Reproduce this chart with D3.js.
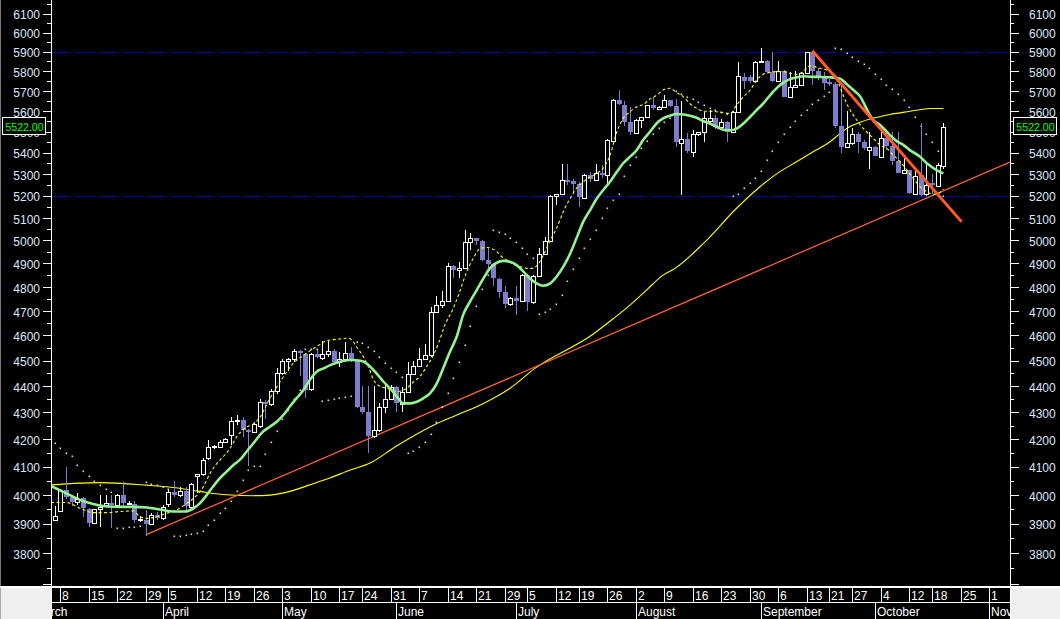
<!DOCTYPE html>
<html><head><meta charset="utf-8">
<script src="https://cdn.jsdelivr.net/npm/d3@7/dist/d3.min.js"></script>
<style>
html,body{margin:0;padding:0;background:#000;overflow:hidden;}
svg{display:block;}
text{font-family:"Liberation Sans",Arial,sans-serif;}
</style></head><body>
<svg id="c" width="1060" height="619"></svg>
<script>
// ---------- DATA ----------
const calendarStart = "2010-03-01", calendarEnd = "2010-11-08", firstDataDay = "2010-03-05";
const holidays = ["2010-04-02","2010-05-21","2010-06-28","2010-07-16","2010-09-17","2010-09-20","2010-10-11"];
const monthNames = ["January","February","March","April","May","June","July","August","September","October","November","December"];
const yTickLabels = [3800,3900,4000,4100,4200,4300,4400,4500,4600,4700,4800,4900,5000,5100,5200,5300,5400,5500,5600,5700,5800,5900,6000,6100];
const refLevels = [5900, 5200];

const open = [3913,3944,4017,3991,3976,3988,3949,3904,3950,3966,3970,3964,4000,3971,3968,3913,3913,3899,3930,3919,
3968,4009,3999,4013,3959,4068,4072,4133,4170,4172,4190,4215,4268,4271,4234,4227,4250,4340,4333,4380,
4450,4498,4505,4537,4524,4390,4524,4511,4524,4537,4493,4505,4528,4502,4322,4303,4212,4234,4322,4350,
4395,4332,4376,4446,4478,4506,4522,4694,4725,4741,4889,4871,4880,4992,5009,4997,4914,4897,4832,4777,
4727,4752,4740,4851,4735,4845,4942,4999,5200,5207,5272,5268,5254,5188,5295,5272,5304,5295,5456,5653,
5630,5548,5492,5557,5570,5630,5609,5622,5653,5627,5445,5466,5405,5488,5497,5553,5565,5521,5545,5497,
5597,5773,5770,5748,5846,5852,5798,5751,5801,5672,5718,5730,5790,5896,5800,5778,5745,5733,5530,5425,
5444,5489,5452,5415,5428,5381,5468,5433,5360,5303,5318,5210,5295,5206,5257,5246,5339];
const high = [3962,4022,4098,3995,4005,3992,3955,3952,4000,4000,4000,4002,4046,3977,3979,3925,3947,3935,3941,3964,
4017,4048,4028,4028,4040,4075,4130,4197,4180,4197,4203,4283,4290,4283,4238,4262,4352,4345,4390,4470,
4505,4510,4547,4540,4530,4530,4541,4576,4576,4545,4535,4573,4555,4505,4401,4401,4401,4335,4405,4405,
4400,4398,4495,4497,4550,4565,4718,4762,4783,4900,4895,4908,5046,5031,5012,5000,4965,4900,4836,4804,
4759,4804,4855,4855,4850,4965,5016,5205,5210,5346,5346,5276,5264,5298,5307,5346,5342,5465,5660,5704,
5650,5622,5560,5572,5633,5671,5625,5680,5656,5660,5651,5492,5508,5500,5597,5605,5581,5560,5550,5600,
5849,5793,5780,5850,5918,5855,5900,5852,5805,5798,5801,5798,5900,5905,5815,5798,5760,5745,5737,5600,
5517,5500,5460,5500,5432,5533,5500,5497,5497,5380,5320,5334,5540,5357,5298,5350,5540];
const low = [3910,3940,3985,3961,3965,3924,3890,3900,3890,3962,3885,3960,3953,3966,3902,3905,3857,3896,3913,3913,
3959,3991,3994,3947,3955,4005,4065,4124,4165,4166,4185,4178,4252,4209,4102,4222,4240,4274,4325,4370,
4445,4457,4496,4440,4355,4380,4510,4502,4515,4490,4473,4496,4496,4318,4293,4150,4204,4228,4297,4345,
4300,4300,4372,4443,4475,4502,4515,4690,4714,4735,4836,4836,4878,4960,4980,4910,4879,4804,4752,4711,
4722,4683,4735,4700,4730,4840,4938,4995,5158,5205,5247,5210,5150,5185,5262,5270,5280,5247,5450,5632,
5528,5484,5488,5516,5566,5606,5606,5620,5620,5425,5203,5400,5381,5478,5452,5540,5513,5513,5452,5493,
5590,5709,5740,5740,5840,5790,5745,5748,5668,5665,5715,5727,5785,5730,5755,5705,5725,5520,5400,5420,
5438,5400,5412,5323,5382,5378,5412,5342,5303,5300,5210,5206,5200,5200,5206,5240,5325];
const close = [3926,4017,3991,3976,3986,3953,3904,3949,3956,3970,3964,4000,3971,3972,3913,3915,3899,3930,3919,3959,
4009,3999,4013,3961,4037,4072,4125,4172,4174,4190,4199,4267,4271,4234,4225,4256,4338,4332,4380,4450,
4498,4505,4537,4528,4387,4524,4515,4524,4537,4496,4505,4528,4502,4322,4303,4213,4234,4322,4350,4398,
4335,4376,4446,4478,4506,4522,4694,4725,4741,4889,4874,4882,4992,5009,4999,4914,4897,4836,4780,4727,
4752,4742,4851,4738,4845,4942,4999,5199,5207,5272,5268,5254,5192,5295,5276,5304,5298,5460,5653,5636,
5548,5497,5557,5570,5630,5614,5622,5653,5627,5450,5464,5408,5488,5497,5565,5565,5521,5545,5500,5597,
5778,5748,5748,5846,5852,5798,5751,5801,5672,5722,5730,5790,5896,5800,5778,5739,5735,5530,5428,5444,
5489,5452,5420,5425,5385,5468,5433,5360,5306,5318,5214,5292,5203,5249,5249,5342,5522];

const sar = [4185,4166,4150,4140,4105,4085,4065,4048,4033,4020,4010,3885,3886,3888,3890,3892,4044,4039,4033,4027,
4022,3857,3859,3861,3865,3869,3875,3895,3913,3936,3953,3978,4015,4054,4087,4102,4102,4145,4190,4230,
4275,4309,4350,4385,4544,4545,4546,4344,4347,4350,4355,4359,4363,4575,4571,4555,4536,4515,4491,4469,
4456,4434,4150,4157,4170,4190,4220,4265,4320,4375,4430,4495,4560,4640,4720,4790,4850,5045,5039,5029,
5010,4991,4965,4940,4922,4686,4697,4708,4727,4766,4824,4876,4924,4968,5006,5045,5101,5143,5180,5210,
5290,5340,5380,5420,5455,5490,5520,5545,5565,5700,5683,5668,5658,5645,5630,5618,5606,5595,5584,5198,
5206,5234,5259,5283,5313,5365,5407,5451,5487,5521,5552,5581,5608,5635,5655,5677,5697,5918,5912,5892,
5871,5852,5835,5815,5784,5759,5730,5708,5683,5653,5622,5573,5530,5490,5450,5410,5200];

// moving averages: [trading-day index, value]
const maGreen = [[-0.6,4031],[2.1,4005],[4.5,3982],[6.8,3968],[9.2,3959],[11.5,3958],[13.8,3958],[16.2,3956],[18.5,3949],[20.8,3942],[22.9,3942],[24.4,3953],[25.5,3970],[26.7,3999],[27.9,4031],[29.0,4058],[30.2,4082],[31.4,4106],[32.6,4126],[33.7,4154],[34.9,4185],[36.6,4228],[37.8,4246],[39.0,4265],[40.2,4291],[41.3,4322],[42.5,4354],[43.7,4385],[44.8,4424],[46.0,4456],[47.2,4469],[48.4,4482],[49.5,4491],[50.7,4499],[51.9,4502],[53.0,4501],[54.2,4496],[55.4,4476],[56.5,4450],[57.7,4418],[58.9,4391],[60.1,4360],[61.2,4334],[62.4,4334],[63.6,4340],[64.7,4353],[65.9,4372],[67.1,4411],[68.2,4469],[69.4,4535],[70.6,4596],[71.7,4683],[72.9,4738],[74.1,4787],[75.3,4837],[76.4,4879],[77.6,4903],[78.8,4911],[79.9,4907],[81.1,4893],[82.3,4865],[83.4,4837],[84.6,4815],[85.8,4805],[87.0,4815],[88.1,4843],[89.3,4886],[90.5,4943],[91.6,5009],[92.8,5083],[94.0,5135],[95.2,5188],[96.3,5226],[97.5,5264],[98.7,5310],[99.8,5350],[101.0,5381],[102.2,5413],[103.3,5460],[104.5,5500],[105.7,5541],[106.8,5565],[108.0,5578],[109.2,5586],[110.4,5584],[111.5,5578],[112.7,5568],[113.9,5551],[115.0,5540],[116.2,5524],[117.4,5510],[118.6,5507],[119.7,5515],[120.9,5540],[122.1,5573],[123.2,5605],[124.4,5638],[125.6,5680],[126.7,5713],[127.9,5742],[129.1,5760],[130.3,5769],[131.4,5774],[132.6,5772],[134.3,5771],[136.1,5769],[137.9,5762],[139.0,5735],[140.2,5705],[141.4,5672],[142.2,5630],[143.0,5585],[143.7,5557],[144.9,5533],[146.6,5484],[147.8,5455],[149.0,5436],[150.1,5412],[151.9,5381],[153.1,5350],[154.8,5318],[156,5303]];
const maShort = [[-0.6,3973],[2.1,3973],[4.5,3953],[6.8,3938],[9.2,3938],[11.5,3942],[13.8,3944],[15.0,3924],[16.2,3918],[17.9,3924],[19.7,3936],[21.4,3947],[23.2,3970],[25.0,3999],[26.1,4028],[27.3,4076],[28.5,4112],[29.6,4136],[30.8,4166],[32.0,4209],[33.7,4245],[34.8,4255],[36.1,4283],[37.5,4341],[39.6,4417],[41.9,4489],[43.7,4521],[46.0,4555],[47.8,4579],[50.1,4586],[51.6,4589],[52.4,4576],[53.0,4555],[54.2,4515],[55.1,4476],[56.0,4424],[56.8,4404],[57.7,4395],[58.9,4388],[60.1,4379],[61.8,4391],[63.0,4417],[64.1,4437],[65.3,4476],[66.5,4522],[67.4,4569],[68.5,4642],[69.7,4697],[70.9,4766],[71.7,4822],[72.6,4879],[73.5,4922],[74.7,4965],[75.9,4969],[76.7,4965],[77.6,4951],[78.5,4929],[79.4,4915],[80.5,4897],[81.7,4887],[82.9,4879],[84.0,4879],[84.6,4889],[85.8,4936],[87.0,5001],[88.1,5053],[89.3,5128],[90.5,5188],[91.6,5234],[92.8,5264],[94.0,5287],[95.2,5303],[96.3,5327],[97.5,5389],[98.7,5500],[99.8,5565],[101.0,5597],[102.2,5622],[103.3,5633],[104.5,5660],[105.7,5680],[106.8,5705],[108.0,5714],[109.2,5692],[110.4,5671],[111.5,5638],[112.7,5614],[113.9,5600],[115.0,5600],[116.2,5597],[117.4,5592],[118.6,5589],[119.7,5630],[120.9,5671],[122.1,5705],[123.2,5755],[124.4,5784],[125.6,5794],[126.7,5798],[127.9,5798],[129.1,5789],[130.3,5784],[131.4,5798],[132.6,5827],[134.3,5815],[135.5,5806],[136.7,5789],[137.6,5739],[138.4,5680],[139.3,5622],[140.2,5581],[141.4,5533],[142.5,5500],[143.7,5468],[144.9,5436],[146.1,5420],[147.2,5389],[148.4,5357],[149.6,5318],[150.7,5280],[151.9,5241],[153.1,5218],[154.2,5206],[155.1,5210],[156,5230]];
const maLong = [[-0.6,4035],[8.0,4043],[16.2,4034],[20.8,4026],[25.5,4012],[30.2,4000],[34.9,3997],[37.8,3999],[41.3,4012],[44.8,4035],[48.4,4060],[51.9,4088],[55.4,4113],[59.8,4172],[66.5,4252],[70.6,4290],[75.3,4334],[79.9,4391],[84.3,4469],[94.3,4602],[98.1,4669],[101.0,4724],[103.9,4787],[106.8,4850],[108.9,4879],[113.9,4987],[119.7,5143],[123.8,5241],[127.3,5311],[130.3,5358],[133.5,5410],[136.1,5452],[137.9,5492],[139.6,5525],[141.4,5546],[143.1,5562],[144.9,5573],[146.6,5584],[148.4,5592],[150.1,5600],[151.9,5607],[153.7,5613],[156,5613]];

// trend lines: [trading-day index, value]
const trendUp = [[16,3862],[156,5222]];
const trendDown = [[133,5905],[159.2,5082]];

// ---------- LAYOUT ----------
const svg = d3.select("#c");
const plotL = 51, plotR = 1010, plotB = 586;
const x = d3.scaleLinear().domain([0,164]).range([54.5, 989]);
const y = d3.scaleLog().domain([6100,3800]).range([13.7,553.3]);

svg.append("rect").attr("width",1060).attr("height",619).attr("fill","#000");
const defs = svg.append("defs");
defs.append("clipPath").attr("id","plot").append("rect").attr("x",plotL+1).attr("y",0).attr("width",plotR-plotL-1).attr("height",plotB);
defs.append("clipPath").attr("id","axisx").append("rect").attr("x",plotL+1).attr("y",588).attr("width",plotR-plotL-1).attr("height",31);

// trading calendar
const parse = d3.timeParse("%Y-%m-%d"), fmt = d3.timeFormat("%Y-%m-%d");
const hol = new Set(holidays);
const days = d3.timeDay.range(parse(calendarStart), parse(calendarEnd))
  .filter(d => d.getDay() > 0 && d.getDay() < 6 && !hol.has(fmt(d)));
const base = days.findIndex(d => fmt(d) === firstDataDay);
const cal = days.map((d,k) => ({date:d, i:k-base}));

// ---------- Y AXES ----------
const gy = svg.append("g");
const minor = d3.range(3700, 6151, 50);
minor.forEach(v => {
  const yy = Math.round(y(v)) + 0.5;
  const major = v % 100 === 0;
  gy.append("line").attr("x1", major?43:47).attr("x2",51).attr("y1",yy).attr("y2",yy).attr("stroke","#fff");
  gy.append("line").attr("x1",1011).attr("x2", major?1019:1014).attr("y1",yy).attr("y2",yy).attr("stroke","#fff");
});
yTickLabels.forEach(v => {
  gy.append("text").attr("x",40).attr("y",y(v)+1.5).attr("dy","0.35em").attr("text-anchor","end")
    .attr("font-size",12).attr("fill","#dbe6fa").text(v);
  gy.append("text").attr("x",1029).attr("y",y(v)+1.5).attr("dy","0.35em").attr("text-anchor","start")
    .attr("font-size",12).attr("fill","#dbe6fa").text(v);
});
gy.append("line").attr("x1",51.5).attr("x2",51.5).attr("y1",0).attr("y2",plotB).attr("stroke","#fff");
gy.append("line").attr("x1",1010.5).attr("x2",1010.5).attr("y1",0).attr("y2",plotB).attr("stroke","#fff");
gy.append("line").attr("x1",0.5).attr("x2",0.5).attr("y1",0).attr("y2",plotB).attr("stroke","#777");

// ---------- PLOT ----------
const gp = svg.append("g").attr("clip-path","url(#plot)");
refLevels.forEach(v => {
  const yy = Math.round(y(v)) + 0.5;
  gp.append("line").attr("x1",52).attr("x2",plotR).attr("y1",yy).attr("y2",yy)
    .attr("stroke","#0000a8").attr("stroke-dasharray","18,6");
});

const line = d3.line().x(d => x(d[0])).y(d => y(d[1])).curve(d3.curveMonotoneX);

// long MA
gp.append("path").attr("d",line(maLong)).attr("fill","none").attr("stroke","#ffff00").attr("stroke-width",1.1);

// rising trend line extended to plot edge (straight in screen space)
(function(){
  const p1=[x(trendUp[0][0]),y(trendUp[0][1])], p2=[x(trendUp[1][0]),y(trendUp[1][1])];
  const s=(p2[1]-p1[1])/(p2[0]-p1[0]);
  gp.append("line").attr("x1",p1[0]).attr("y1",p1[1]).attr("x2",plotR).attr("y2",p1[1]+s*(plotR-p1[0]))
    .attr("stroke","#ff6633").attr("stroke-width",1.2);
})();

// SAR dots
gp.selectAll("rect.sar").data(sar).join("rect").attr("class","sar")
  .attr("x",(d,i)=>Math.round(x(i))-0.5).attr("y",d=>Math.round(y(d))-0.5)
  .attr("width",1.6).attr("height",1.6).attr("fill","#d8d8d8");

// candles
const idx = d3.range(open.length);
const gc = gp.append("g").attr("shape-rendering","crispEdges");
idx.forEach(i => {
  const cx = Math.round(x(i)) + 0.5;
  const up = close[i] >= open[i];
  const col = up ? "#ffffff" : "#7d7dcc";
  const yH = y(high[i]), yL = y(low[i]);
  const yT = y(Math.max(open[i],close[i])), yB = y(Math.min(open[i],close[i]));
  gc.append("line").attr("x1",cx).attr("x2",cx).attr("y1",yH).attr("y2",yL).attr("stroke",col);
  if (up) {
    gc.append("rect").attr("x",cx-2).attr("width",4).attr("y",Math.round(yT)+0.5)
      .attr("height",Math.max(1,Math.round(yB)-Math.round(yT))).attr("fill","#000").attr("stroke","#fff");
  } else {
    gc.append("rect").attr("x",cx-2.5).attr("width",5).attr("y",Math.round(yT))
      .attr("height",Math.max(1.5,Math.round(yB)-Math.round(yT))).attr("fill",col);
  }
});

// short MA (dashed) and green MA
gp.append("path").attr("d",line(maShort)).attr("fill","none").attr("stroke","#ffff00").attr("stroke-width",1.1).attr("stroke-dasharray","3,2.5");
gp.append("path").attr("d",line(maGreen)).attr("fill","none").attr("stroke","#94f294").attr("stroke-width",2.6);

// falling trend line
gp.append("line").attr("x1",x(trendDown[0][0])).attr("y1",y(trendDown[0][1]))
  .attr("x2",x(trendDown[1][0])).attr("y2",y(trendDown[1][1]))
  .attr("stroke","#ff5a28").attr("stroke-width",3);

// ---------- LAST PRICE BOXES ----------
const lastTxt = close[close.length-1].toFixed(2);
const yl = y(close[close.length-1]);
[[2.5,24.5],[1013.5,1035.5]].forEach(([bx,tx]) => {
  svg.append("rect").attr("x",bx).attr("y",Math.round(yl)-9.5).attr("width",43).attr("height",17)
    .attr("fill","#000").attr("stroke","#fff");
  svg.append("text").attr("x",tx).attr("y",yl).attr("dy","0.36em").attr("text-anchor","middle")
    .attr("font-size",10.6).attr("fill","#00ff00").text(lastTxt);
});

// ---------- X AXIS ----------
svg.append("rect").attr("x",0).attr("y",586).attr("width",1060).attr("height",2).attr("fill","#fff");
svg.append("rect").attr("x",0).attr("y",588).attr("width",51).attr("height",31).attr("fill","#efefef");
svg.append("rect").attr("x",1011).attr("y",588).attr("width",49).attr("height",31).attr("fill","#efefef");
svg.append("line").attr("x1",0.5).attr("x2",0.5).attr("y1",588).attr("y2",619).attr("stroke","#aaa");
const gx = svg.append("g").attr("clip-path","url(#axisx)");
gx.append("line").attr("x1",51).attr("x2",1011).attr("y1",602.5).attr("y2",602.5).attr("stroke","#fff");

const weekStarts = cal.filter((c,k) => k===0 || d3.timeMonday.floor(c.date).getTime() !== d3.timeMonday.floor(cal[k-1].date).getTime());
const monthStarts = cal.filter((c,k) => k===0 || c.date.getMonth() !== cal[k-1].date.getMonth());
weekStarts.forEach(c => {
  const lx = Math.round(x(c.i)) + 0.5;
  gx.append("line").attr("x1",lx).attr("x2",lx).attr("y1",588).attr("y2",602).attr("stroke","#fff");
  gx.append("text").attr("x",lx+1.5).attr("y",600).attr("font-size",12).attr("fill","#fff").text(c.date.getDate());
});
monthStarts.forEach(c => {
  const lx = Math.round(x(c.i)) + 0.5;
  gx.append("line").attr("x1",lx).attr("x2",lx).attr("y1",603).attr("y2",619).attr("stroke","#fff");
  gx.append("text").attr("x",lx+1.5).attr("y",616).attr("font-size",12).attr("fill","#fff").text(monthNames[c.date.getMonth()]);
});
svg.append("line").attr("x1",51.5).attr("x2",51.5).attr("y1",588).attr("y2",619).attr("stroke","#fff");
svg.append("line").attr("x1",1010.5).attr("x2",1010.5).attr("y1",588).attr("y2",619).attr("stroke","#fff");
</script>
</body></html>
